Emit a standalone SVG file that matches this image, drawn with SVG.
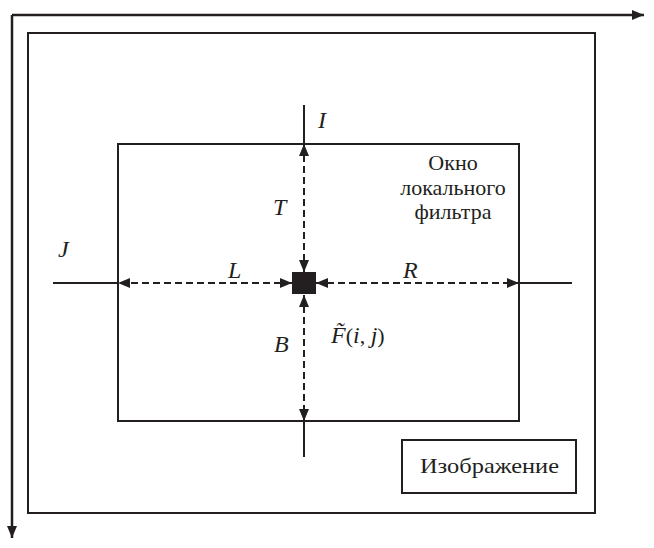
<svg xmlns="http://www.w3.org/2000/svg" width="654" height="548" viewBox="0 0 654 548">
<style>
.ln{stroke:#231f20;stroke-width:2;fill:none}
.ax{stroke:#231f20;stroke-width:2.5;fill:none}
.ds{stroke:#231f20;stroke-width:2;fill:none;stroke-dasharray:7,4}
.t{font-family:"Liberation Serif","Times New Roman",serif;font-size:22px;fill:#231f20}
.i{font-style:italic;font-size:24px}
</style>
<defs>
<marker id="ah" viewBox="0 0 12 10" refX="12" refY="5" markerWidth="12" markerHeight="10" markerUnits="userSpaceOnUse" orient="auto-start-reverse">
<path d="M0,0 L12,5 L0,10 Z" fill="#231f20"/>
</marker>
</defs>
<g id="axes">
<path class="ax" d="M12,15 H644" marker-end="url(#ah)"/>
<path class="ax" d="M12,15 V538" marker-end="url(#ah)"/>
</g>
<g id="image">
<rect class="ln" x="28" y="33" width="567" height="480"/>
</g>
<g id="image-label">
<rect class="ln" x="402" y="440" width="174" height="53"/>
<text class="t" x="420" y="473" textLength="139" lengthAdjust="spacingAndGlyphs">Изображение</text>
</g>
<g id="window">
<rect class="ln" x="118" y="144" width="401" height="277"/>
<text class="t" x="453" y="170" text-anchor="middle">Окно</text>
<text class="t" x="453" y="195" text-anchor="middle">локального</text>
<text class="t" x="453" y="219" text-anchor="middle">фильтра</text>
</g>
<g id="axis-lines">
<path class="ln" d="M304,105 V144 M304,421 V457 M53,283 H118 M519,283 H572"/>
</g>
<g id="connectors">
<path class="ds" d="M304,272 V144" marker-start="url(#ah)" marker-end="url(#ah)"/>
<path class="ds" d="M304,295 V421" marker-start="url(#ah)" marker-end="url(#ah)"/>
<path class="ds" d="M292,283 H118" marker-start="url(#ah)" marker-end="url(#ah)"/>
<path class="ds" d="M316,283 H519" marker-start="url(#ah)" marker-end="url(#ah)"/>
</g>
<g id="center">
<rect x="292" y="272" width="24" height="22" fill="#231f20"/>
</g>
<g id="labels">
<text class="t i" x="318" y="128">I</text>
<text class="t i" x="273" y="215">T</text>
<text class="t i" x="58" y="257">J</text>
<text class="t i" x="228" y="278">L</text>
<text class="t i" x="403" y="278">R</text>
<text class="t i" x="274" y="352">B</text>
<text class="t" x="331" y="343" font-size="24"><tspan class="i">F&#x303;</tspan>(<tspan class="i">i</tspan>, <tspan class="i">j</tspan>)</text>
</g>
</svg>
